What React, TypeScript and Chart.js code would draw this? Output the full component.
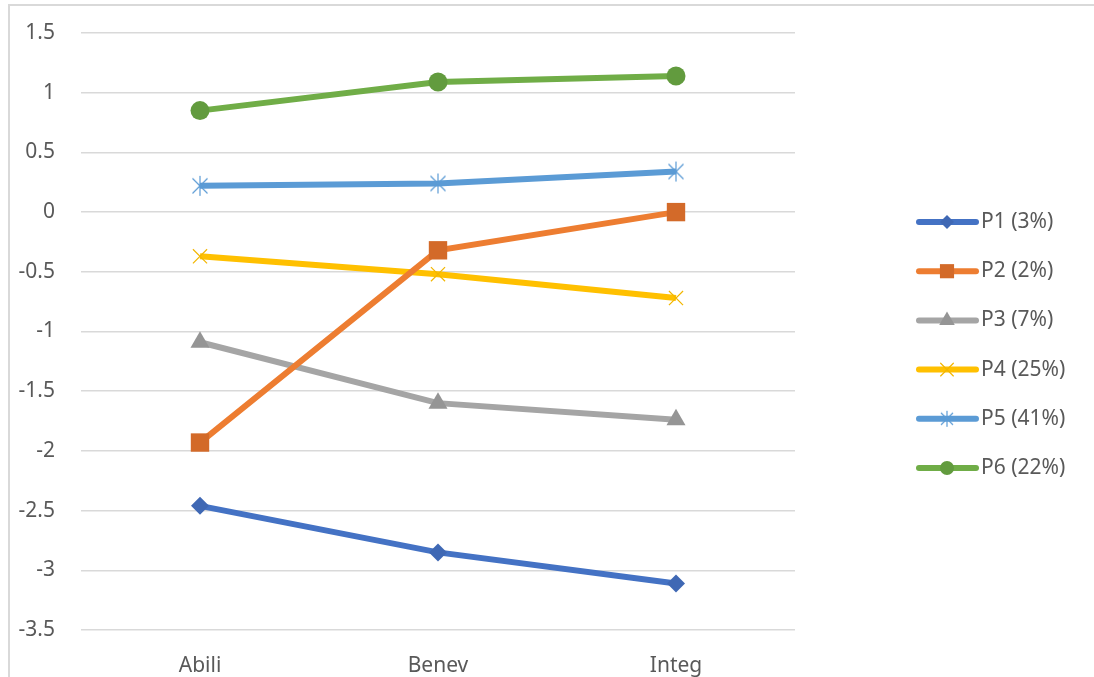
import React, { useEffect, useRef } from "react";
import { Chart, registerables } from "chart.js";
import { drawPoint } from "chart.js/helpers";

Chart.register(...registerables);

const categories = ["Abili", "Benev", "Integ"];
const seriesNames = ["P1 (3%)", "P2 (2%)", "P3 (7%)", "P4 (25%)", "P5 (41%)", "P6 (22%)"];
const p1 = [-2.46, -2.85, -3.11];
const p2 = [-1.93, -0.32, 0.0];
const p3 = [-1.09, -1.6, -1.74];
const p4 = [-0.37, -0.52, -0.72];
const p5 = [0.22, 0.24, 0.34];
const p6 = [0.85, 1.09, 1.14];
const yTicks = [1.5, 1, 0.5, 0, -0.5, -1, -1.5, -2, -2.5, -3, -3.5];

const lineColors = ["#4472C4", "#ED7D31", "#A5A5A5", "#FFC000", "#5B9BD5", "#70AD47"];
const markerColors = ["#3F68B4", "#D36A29", "#959595", "#F2B600", "#5B9BD5", "#629B3E"];

const FONT = "'Noto Sans', 'Open Sans', sans-serif";
const TEXT = "#595959";

// asterisk marker: vertical stroke plus diagonal cross
function makeAsterisk(color: string, r: number): HTMLCanvasElement {
  const c = document.createElement("canvas");
  const s = r * 2 + 2;
  c.width = s;
  c.height = s;
  const ctx = c.getContext("2d")!;
  ctx.strokeStyle = color;
  ctx.lineWidth = 1.2;
  const m = s / 2;
  const d = r * 0.75;
  ctx.beginPath();
  ctx.moveTo(m, m - r);
  ctx.lineTo(m, m + r);
  ctx.moveTo(m - d, m - d);
  ctx.lineTo(m + d, m + d);
  ctx.moveTo(m - d, m + d);
  ctx.lineTo(m + d, m - d);
  ctx.stroke();
  return c;
}

export default function App() {
  const ref = useRef<HTMLCanvasElement | null>(null);

  useEffect(() => {
    if (!ref.current) return;
    const star = makeAsterisk("#5B9BD5", 10);
    const starSmall = makeAsterisk("#5B9BD5", 8);
    const values = [p1, p2, p3, p4, p5, p6];
    const styles: any[] = ["rectRot", "rect", "triangle", "crossRot", star, "circle"];
    const legendStyles: any[] = ["rectRot", "rect", "triangle", "crossRot", starSmall, "circle"];
    const radii = [9, 13, 11, 10, 10, 9.5];
    const legendRadii = [7, 10, 9, 9, 8, 7];
    const borderW = [0, 0, 0, 1.2, 1, 0];

    const datasets = values.map((v, i) => ({
      label: seriesNames[i],
      data: v,
      borderColor: lineColors[i],
      borderWidth: 6,
      pointStyle: styles[i],
      pointRadius: radii[i],
      pointBackgroundColor: markerColors[i],
      pointBorderColor: markerColors[i],
      pointBorderWidth: borderW[i],
      tension: 0,
    }));

    const legendPlugin = {
      id: "sideLegend",
      afterDraw(chart: any) {
        const ctx = chart.ctx;
        const startY = 222;
        const gap = 49.2;
        ctx.save();
        chart.data.datasets.forEach((ds: any, i: number) => {
          const y = startY + i * gap;
          ctx.strokeStyle = ds.borderColor;
          ctx.lineWidth = 6;
          ctx.lineCap = "round";
          ctx.beginPath();
          ctx.moveTo(919, y);
          ctx.lineTo(976, y);
          ctx.stroke();
          ctx.fillStyle = ds.pointBackgroundColor;
          ctx.strokeStyle = ds.pointBorderColor;
          ctx.lineWidth = ds.pointBorderWidth;
          drawPoint(
            ctx,
            { pointStyle: legendStyles[i], radius: legendRadii[i], rotation: 0, borderWidth: ds.pointBorderWidth },
            947,
            y
          );
          ctx.fillStyle = TEXT;
          ctx.font = `21px ${FONT}`;
          ctx.textBaseline = "middle";
          ctx.textAlign = "left";
          ctx.fillText(ds.label, 981, y);
        });
        ctx.restore();
      },
    };

    const chart = new Chart(ref.current, {
      type: "line",
      data: { labels: categories, datasets },
      options: {
        animation: false,
        responsive: false,
        layout: { padding: { left: 0, right: 299, top: 33, bottom: 0 } },
        plugins: { legend: { display: false }, tooltip: { enabled: false } },
        scales: {
          x: {
            offset: true,
            grid: { display: false },
            border: { display: false },
            ticks: { color: TEXT, font: { family: FONT, size: 21 }, padding: 15 },
            afterFit: (s: any) => {
              s.height = 47;
            },
          },
          y: {
            min: -3.5,
            max: 1.5,
            afterBuildTicks: (s: any) => {
              s.ticks = yTicks.map((v) => ({ value: v }));
            },
            grid: { color: "#D9D9D9", lineWidth: 1.5, drawTicks: false },
            border: { display: false },
            ticks: {
              color: TEXT,
              font: { family: FONT, size: 21 },
              padding: 26,
              callback: (v: any) => String(v),
            },
            afterFit: (s: any) => {
              s.width = 81;
              s.paddingTop = 0;
              s.paddingBottom = 0;
            },
          },
        },
      },
      plugins: [legendPlugin],
    });
    return () => chart.destroy();
  }, []);

  return (
    <div style={{ position: "fixed", left: 0, top: 0, width: 1094, height: 677, background: "#fff", overflow: "hidden" }}>
      <div
        style={{
          position: "absolute",
          left: 8,
          top: 4,
          width: 1200,
          height: 800,
          border: "2px solid #D9D9D9",
          boxSizing: "border-box",
        }}
      />
      <canvas ref={ref} width={1094} height={677} style={{ position: "absolute", left: 0, top: 0 }} />
    </div>
  );
}
